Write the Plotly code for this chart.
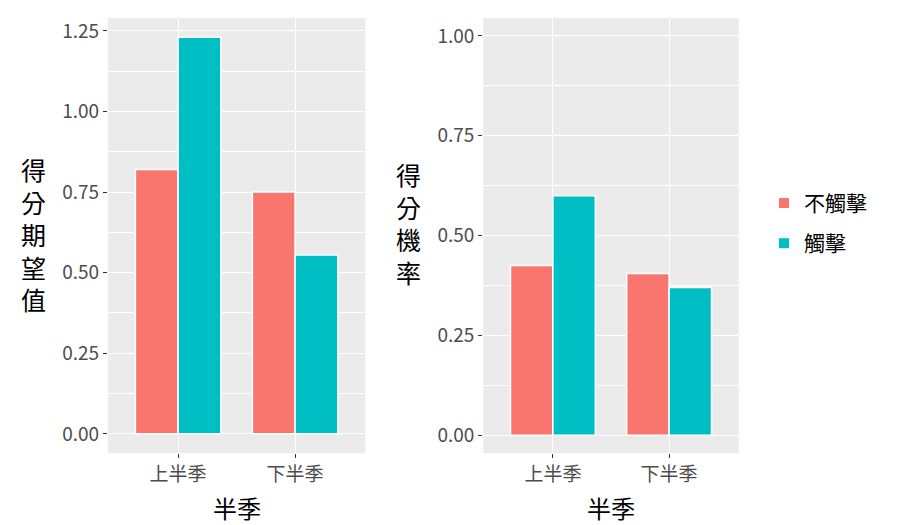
import plotly.graph_objects as go
from plotly.subplots import make_subplots

seasons = ['上半季', '下半季']
groups = ['不觸擊', '觸擊']
colors = ['#F8766D', '#00BFC4']

expected_score = {'不觸擊': [0.82, 0.75], '觸擊': [1.23, 0.555]}
score_prob = {'不觸擊': [0.425, 0.405], '觸擊': [0.60, 0.37]}

FONT = 'Noto Sans CJK TC'
BG = '#EBEBEB'

fig = make_subplots(rows=1, cols=2)

for g, c in zip(groups, colors):
    fig.add_trace(go.Bar(x=seasons, y=expected_score[g], name=g, marker=dict(color=c, line=dict(color='white', width=1.5)),
                         legendgroup=g), row=1, col=1)
    fig.add_trace(go.Bar(x=seasons, y=score_prob[g], name=g, marker=dict(color=c, line=dict(color='white', width=1.5)),
                         legendgroup=g, showlegend=False), row=1, col=2)

axis_common = dict(showgrid=True, gridcolor='white', gridwidth=1.2, ticks='outside', ticklen=4, tickcolor='#333333',
                   tickfont=dict(family=FONT, size=19, color='#4D4D4D'), zeroline=False, showline=False,
                   automargin=False)

fig.update_layout(
    width=900, height=525,
    margin=dict(l=0, r=0, t=0, b=0),
    paper_bgcolor='white', plot_bgcolor=BG,
    barmode='group', bargap=0.27, bargroupgap=0,
    font=dict(family=FONT, color='black'),
    legend=dict(x=0.84, y=0.59, xanchor='left', yanchor='middle', font=dict(size=21), itemsizing='constant'),
    xaxis=dict(domain=[0.111, 0.397], range=[-0.6, 1.6], **axis_common),
    xaxis2=dict(domain=[0.528, 0.812], range=[-0.6, 1.6], **axis_common),
    yaxis=dict(domain=[0.152, 0.981], range=[-0.06, 1.29], tickvals=[0, 0.25, 0.5, 0.75, 1.0, 1.25],
               ticktext=['0.00', '0.25', '0.50', '0.75', '1.00', '1.25'],
               minor=dict(showgrid=True, gridcolor='white', gridwidth=0.6, dtick=0.125, tick0=0.125), **axis_common),
    yaxis2=dict(domain=[0.152, 0.981], range=[-0.045, 1.045], tickvals=[0, 0.25, 0.5, 0.75, 1.0],
                ticktext=['0.00', '0.25', '0.50', '0.75', '1.00'],
                minor=dict(showgrid=True, gridcolor='white', gridwidth=0.6, dtick=0.125, tick0=0.125), **axis_common),
)

# axis titles in ggplot style
for x, text in [(0.254, '半季'), (0.67, '半季')]:
    fig.add_annotation(x=x, y=0.012, xref='paper', yref='paper', xanchor='center', yanchor='bottom',
                       text=text, showarrow=False, font=dict(size=24))
for x, y, text in [(0.028, 0.57, '得<br>分<br>期<br>望<br>值'), (0.445, 0.59, '得<br>分<br>機<br>率')]:
    fig.add_annotation(x=x, y=y, xref='paper', yref='paper', xanchor='center', yanchor='middle',
                       text=text, showarrow=False, font=dict(size=25))

fig.write_html('out.html')
